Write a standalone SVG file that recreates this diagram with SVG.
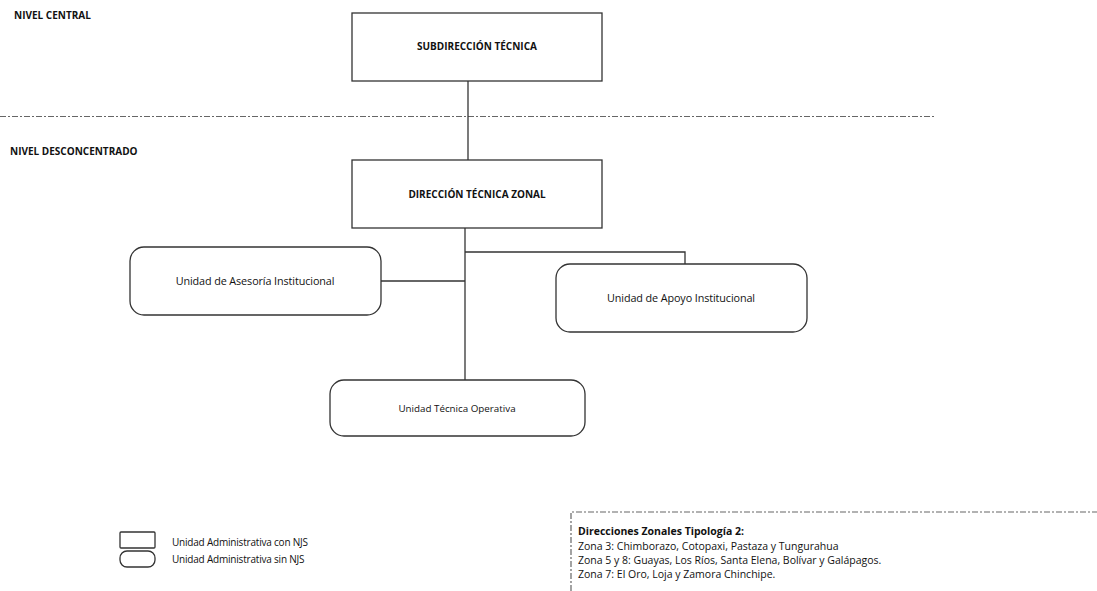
<svg xmlns="http://www.w3.org/2000/svg" width="1097" height="591" viewBox="0 0 1097 591">
<style>
text{font-family:"Open Sans","Liberation Sans",sans-serif;fill:#111}
.t{font-size:10px;font-weight:bold;letter-spacing:0}
.u{font-size:10.8px;letter-spacing:-0.1px}
.lg{font-size:10px;letter-spacing:-0.2px}
.nt{font-size:10.5px;letter-spacing:0}
.box{fill:#fff;stroke:#333;stroke-width:1.3}
.ln{fill:none;stroke:#333;stroke-width:1.3}
.dash{fill:none;stroke:#666;stroke-width:1.2;stroke-dasharray:6 2 2 2}
</style>
<rect width="1097" height="591" fill="#fff"/>
<g id="levels">
<text class="t" x="14" y="19">NIVEL CENTRAL</text>
<text class="t" x="10" y="155">NIVEL DESCONCENTRADO</text>
<line class="dash" x1="0" y1="116.5" x2="935" y2="116.5"/>
</g>
<g id="connectors">
<line class="ln" x1="468" y1="81" x2="468" y2="160"/>
<line class="ln" x1="465" y1="228" x2="465" y2="380"/>
<polyline class="ln" points="465,252 685,252 685,264"/>
<line class="ln" x1="381" y1="281" x2="465" y2="281"/>
</g>
<g id="n-subdireccion">
<rect class="box" x="352" y="13" width="250" height="68"/>
<text class="t" x="477" y="50" text-anchor="middle">SUBDIRECCIÓN TÉCNICA</text>
</g>
<g id="n-direccion">
<rect class="box" x="352" y="160" width="250" height="68"/>
<text class="t" x="477" y="198" text-anchor="middle">DIRECCIÓN TÉCNICA ZONAL</text>
</g>
<g id="n-asesoria">
<rect class="box" x="130" y="247" width="251" height="68" rx="14"/>
<text class="u" x="255" y="285" text-anchor="middle">Unidad de Asesoría Institucional</text>
</g>
<g id="n-apoyo">
<rect class="box" x="556" y="264" width="251" height="68" rx="14"/>
<text class="u" x="681" y="302" text-anchor="middle">Unidad de Apoyo Institucional</text>
</g>
<g id="n-operativa">
<rect class="box" x="330" y="380" width="255" height="56" rx="14"/>
<text class="u" x="457" y="412" text-anchor="middle" style="font-size:9.8px;letter-spacing:0">Unidad Técnica Operativa</text>
</g>
<g id="legend">
<rect class="box" x="120" y="532" width="35" height="16" rx="1"/>
<rect class="box" x="120" y="551" width="35" height="16" rx="7"/>
<text class="lg" x="172" y="546">Unidad Administrativa con NJS</text>
<text class="lg" x="172" y="563">Unidad Administrativa sin NJS</text>
</g>
<g id="note">
<polyline class="dash" points="571,591 571,512 1097,512"/>
<text class="t" x="578" y="535" style="font-size:10.5px">Direcciones Zonales Tipología 2:</text>
<text class="nt" x="578" y="550">Zona 3: Chimborazo, Cotopaxi, Pastaza y Tungurahua</text>
<text class="nt" x="578" y="564">Zona 5 y 8: Guayas, Los Ríos, Santa Elena, Bolívar y Galápagos.</text>
<text class="nt" x="578" y="578">Zona 7: El Oro, Loja y Zamora Chinchipe.</text>
</g>
</svg>
